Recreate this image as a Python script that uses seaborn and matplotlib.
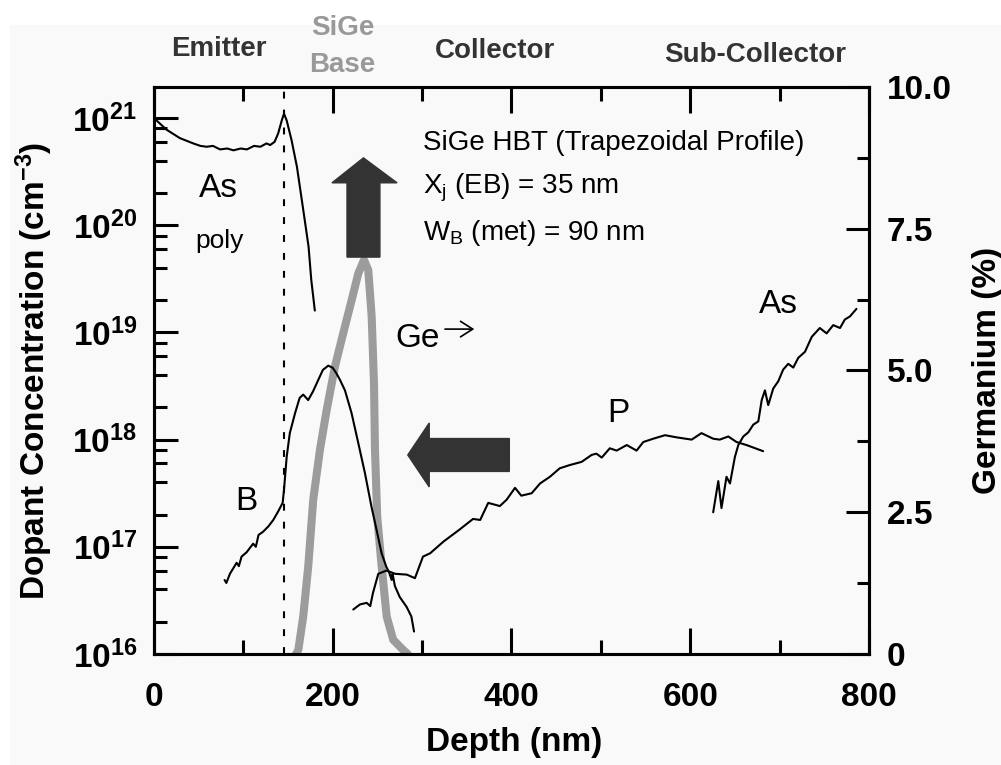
#%% imports
import seaborn as sns
import matplotlib.pyplot as plt
from matplotlib.ticker import FixedLocator, LogLocator, NullFormatter
from matplotlib.patches import Polygon, Rectangle

#%% data (depth in nm, concentration in cm-3)
as_poly_x = [0, 14, 29, 44, 52, 59, 66, 74, 82, 89, 97, 104, 112, 119, 126, 130,
             135, 139, 143, 145.5, 148.5, 154, 160, 167, 173, 176, 180]
as_poly_c = [1.0e21, 7.8e20, 6.5e20, 5.8e20, 5.5e20, 5.4e20, 5.5e20, 5.1e20, 5.2e20,
             5.0e20, 5.2e20, 5.1e20, 5.5e20, 5.4e20, 5.8e20, 5.6e20, 6.0e20, 7.2e20,
             9.5e20, 1.1e21, 9.5e20, 6.2e20, 3.5e20, 1.4e20, 6.3e19, 3.1e19, 1.6e19]

b_x = [79, 81, 85, 92.5, 95, 98, 103.7, 111, 114, 117, 122, 128, 133.5, 139, 144,
       145.5, 148.5, 152, 158, 163, 167, 172.6, 178, 184, 189, 195, 200, 204, 208,
       213.7, 221, 228.6, 236, 243.5, 249, 254.7, 260, 263, 266, 267, 269.6, 275,
       282.7, 288, 291]
b_c = [4.9e16, 4.6e16, 5.6e16, 7.1e16, 6.6e16, 8.1e16, 8.9e16, 1.07e17, 1.0e17,
       1.29e17, 1.38e17, 1.55e17, 1.78e17, 2.14e17, 2.57e17, 3.4e17, 6.9e17, 1.15e18,
       1.78e18, 2.45e18, 2.63e18, 2.34e18, 2.82e18, 3.63e18, 4.47e18, 4.9e18, 4.68e18,
       4.17e18, 3.63e18, 2.88e18, 1.78e18, 9.3e17, 4.9e17, 2.34e17, 1.45e17, 8.7e16,
       6.5e16, 5.8e16, 4.9e16, 5.6e16, 4.3e16, 3.4e16, 2.75e16, 2.24e16, 1.62e16]

p_x = [223, 230.5, 238, 242, 245, 251, 260, 270, 283, 292, 301, 309, 324, 342, 357,
       365, 374, 387, 394.6, 404, 411, 422.6, 432, 443, 454, 465.5, 478.5, 489.7, 495,
       501, 510, 517.7, 529, 540, 547.5, 558.7, 571.8, 584.8, 601.6, 612.6, 625.7, 633,
       642.6, 651.8, 663, 681.6]
p_c = [2.6e16, 2.9e16, 3.0e16, 2.8e16, 3.7e16, 5.6e16, 6.0e16, 5.6e16, 5.5e16, 5.1e16,
       8.1e16, 8.7e16, 1.12e17, 1.45e17, 1.82e17, 1.78e17, 2.57e17, 2.4e17, 2.75e17,
       3.55e17, 3.0e17, 3.16e17, 3.9e17, 4.5e17, 5.4e17, 5.8e17, 6.2e17, 7.2e17, 7.4e17,
       6.8e17, 8.3e17, 7.9e17, 8.9e17, 7.9e17, 9.5e17, 1.02e18, 1.1e18, 1.05e18, 1.0e18,
       1.15e18, 1.02e18, 1.0e18, 1.07e18, 9.5e17, 8.9e17, 7.8e17]

as_sub_x = [625.7, 631.4, 635, 640.6, 644.5, 650, 653.8, 659.4, 665, 670.6, 676.2, 680,
            683.6, 687.3, 692.9, 698.5, 704, 709.7, 715.3, 720.9, 728.4, 736, 745, 752.6,
            760, 767.6, 773, 778.7, 786]
as_sub_c = [2.1e17, 4.1e17, 2.3e17, 4.5e17, 3.9e17, 6.9e17, 8.9e17, 1.07e18, 1.17e18,
            1.38e18, 1.48e18, 2.34e18, 2.88e18, 2.1e18, 3.0e18, 3.5e18, 4.5e18, 5.1e18,
            4.7e18, 5.8e18, 6.6e18, 9.1e18, 1.1e19, 9.8e18, 1.17e19, 1.1e19, 1.32e19,
            1.41e19, 1.66e19]

# germanium profile (right axis, %)
ge_x = [159, 161.5, 167, 172.6, 178.2, 185.7, 193.2, 202.5, 211.8, 221.2, 228.6, 235,
        239.8, 243.6, 246.2, 247.3, 249.8, 254.8, 260.4, 267.7, 278.9, 284]
ge_pct = [0, 0.07, 0.66, 1.54, 2.72, 3.6, 4.3, 5.07, 5.66, 6.24, 6.71, 6.95,
          6.77, 5.95, 4.77, 3.6, 2.42, 1.54, 0.66, 0.25, 0.07, 0]

x_ticks = [0, 200, 400, 600, 800]
x_minor = [100, 300, 500, 700]
y_ticks = [1e16, 1e17, 1e18, 1e19, 1e20, 1e21]
y_tick_labels = [r'$\mathbf{10^{16}}$', r'$\mathbf{10^{17}}$', r'$\mathbf{10^{18}}$',
                 r'$\mathbf{10^{19}}$', r'$\mathbf{10^{20}}$', r'$\mathbf{10^{21}}$']
ge_ticks = [0, 2.5, 5.0, 7.5, 10.0]
ge_tick_labels = ['0', '2.5', '5.0', '7.5', '10.0']
ge_minor = [1.25, 3.75, 6.25, 8.75]
eb_junction = 145  # nm, dashed line

#%% style
sns.set_theme(style='ticks')
plt.rcParams['font.family'] = ['Liberation Sans', 'DejaVu Sans']
plt.rcParams['mathtext.fontset'] = 'custom'
plt.rcParams['mathtext.rm'] = 'Liberation Sans'
plt.rcParams['mathtext.it'] = 'Liberation Sans:italic'
plt.rcParams['mathtext.bf'] = 'Liberation Sans:bold'

fig = plt.figure(figsize=(10.01, 7.65), dpi=100, facecolor='white')
fig.add_artist(Rectangle((10 / 1001, 0), 1, 740 / 765, transform=fig.transFigure,
                         facecolor='#f9f9f9', edgecolor='none', zorder=-10))
ax = fig.add_axes([0.1538, 0.1451, 0.7143, 0.7412])
ax2 = ax.twinx()
ax.set_zorder(ax2.get_zorder() + 1)
ax.patch.set_visible(False)
ax2.patch.set_visible(False)

#%% plot
line_kw = dict(color='black', linewidth=1.5, estimator=None, sort=False, legend=False)
sns.lineplot(x=as_poly_x, y=as_poly_c, ax=ax, **line_kw)
sns.lineplot(x=b_x, y=b_c, ax=ax, **line_kw)
sns.lineplot(x=p_x, y=p_c, ax=ax, **line_kw)
sns.lineplot(x=as_sub_x, y=as_sub_c, ax=ax, **line_kw)
ax.axvline(eb_junction, color='black', linewidth=1.5, linestyle=(0, (3.3, 5.3)))

sns.lineplot(x=ge_x, y=ge_pct, ax=ax2, color='#9c9c9c', linewidth=5.8,
             estimator=None, sort=False, legend=False, solid_joinstyle='round')

ax.set_yscale('log')
ax.set_xlim(0, 800)
ax.set_ylim(1e16, 1.95e21)
ax2.set_ylim(0, 10)

# ticks
ax.xaxis.set_major_locator(FixedLocator(x_ticks))
ax.xaxis.set_minor_locator(FixedLocator(x_minor))
ax.set_xticklabels([str(t) for t in x_ticks], fontweight='bold')
ax.yaxis.set_major_locator(FixedLocator(y_ticks))
ax.set_yticklabels(y_tick_labels)
ax.yaxis.set_minor_locator(LogLocator(base=10, subs=[2, 4, 6, 8]))
ax.yaxis.set_minor_formatter(NullFormatter())
ax.tick_params(axis='x', which='both', direction='in', top=True, bottom=True,
               width=2.2, color='black', labelsize=24, labelcolor='black')
ax.tick_params(axis='x', which='major', length=18.5, pad=20)
ax.tick_params(axis='x', which='minor', length=10)
ax.tick_params(axis='y', which='both', direction='in', left=True, right=False,
               width=2.2, color='black', labelsize=24, labelcolor='black')
ax.tick_params(axis='y', which='major', length=17.5, pad=12)
ax.tick_params(axis='y', which='minor', length=9.5)

ax2.yaxis.set_major_locator(FixedLocator(ge_ticks))
ax2.set_yticklabels(ge_tick_labels, fontweight='bold')
ax2.yaxis.set_minor_locator(FixedLocator(ge_minor))
ax2.tick_params(axis='y', which='both', direction='in', right=True, left=False,
                width=2.2, color='black', labelsize=24, labelcolor='black')
ax2.tick_params(axis='y', which='major', length=16.5, pad=13)
ax2.tick_params(axis='y', which='minor', length=8.5)

for a in (ax, ax2):
    for s in a.spines.values():
        s.set_linewidth(2.2)
        s.set_color('black')

# axis labels
ax.set_xlabel('Depth (nm)', fontsize=24, fontweight='bold', color='black')
ax.xaxis.set_label_coords(0.5035, -0.1287)
ax.set_ylabel(r'Dopant Concentration (cm$^{\mathbf{-3}}$)', fontsize=24,
              fontweight='bold', color='black')
ax.yaxis.set_label_coords(-0.1385, 0.5)
ax2.set_ylabel('Germanium (%)', fontsize=24, fontweight='bold', color='black')
ax2.yaxis.set_label_coords(1.144, 0.5)

#%% region labels above the plot
top_kw = dict(transform=ax.transAxes, ha='center', va='baseline', fontsize=20,
              fontweight='bold', clip_on=False)
ax.text(0.091, 1.0547, 'Emitter', color='#333333', **top_kw)
ax.text(0.264, 1.0917, 'SiGe', color='#999999', **top_kw)
ax.text(0.264, 1.0265, 'Base', color='#999999', **top_kw)
ax.text(0.4776, 1.0511, 'Collector', color='#333333', **top_kw)
ax.text(0.8406, 1.0441, 'Sub-Collector', color='#333333', **top_kw)

#%% annotations inside
in_kw = dict(transform=ax.transAxes, va='baseline', color='black')
ax.text(0.0895, 0.806, 'As', ha='center', fontsize=24, **in_kw)
ax.text(0.0923, 0.716, 'poly', ha='center', fontsize=19, **in_kw)
ax.text(0.337, 0.541, 'Ge', ha='left', fontsize=24, **in_kw)
ax.annotate('', xy=(0.448, 0.573), xytext=(0.407, 0.573), xycoords='axes fraction',
            arrowprops=dict(arrowstyle='->, head_length=0.55, head_width=0.35',
                            color='black', lw=1.2, mutation_scale=16,
                            shrinkA=0, shrinkB=0))
ax.text(0.1287, 0.254, 'B', ha='center', fontsize=24, **in_kw)
ax.text(0.650, 0.409, 'P', ha='center', fontsize=24, **in_kw)
ax.text(0.874, 0.601, 'As', ha='center', fontsize=24, **in_kw)
ax.text(0.376, 0.889, 'SiGe HBT (Trapezoidal Profile)', ha='left', fontsize=20, **in_kw)
ax.text(0.376, 0.813, r'X$_{\mathrm{j}}$ (EB) = 35 nm', ha='left', fontsize=20, **in_kw)
ax.text(0.376, 0.730, r'W$_{\mathrm{B}}$ (met) = 90 nm', ha='left', fontsize=20, **in_kw)

# block arrows
up_arrow = [(0.270, 0.700), (0.316, 0.700), (0.316, 0.831), (0.340, 0.831),
            (0.293, 0.875), (0.249, 0.831), (0.270, 0.831)]
left_arrow = [(0.497, 0.322), (0.497, 0.380), (0.385, 0.380), (0.385, 0.4074),
              (0.355, 0.351), (0.385, 0.2946), (0.385, 0.322)]
for verts in (up_arrow, left_arrow):
    ax.add_patch(Polygon(verts, closed=True, transform=ax.transAxes,
                         facecolor='#333333', edgecolor='#333333', linewidth=1))

fig.savefig('out.png', dpi=100, facecolor=fig.get_facecolor())
